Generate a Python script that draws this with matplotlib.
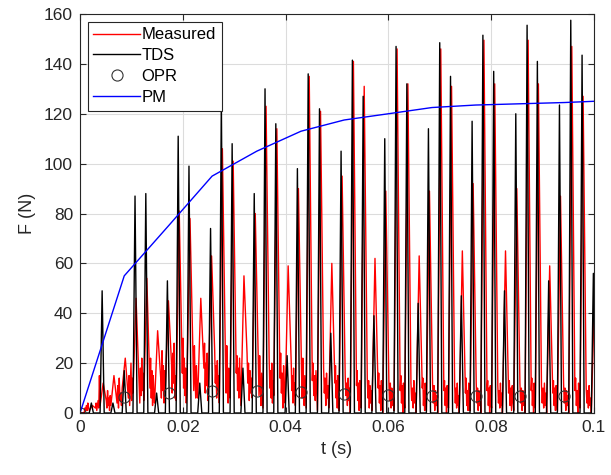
import numpy as np
import matplotlib.pyplot as plt

plt.rcParams['font.family'] = ['Liberation Sans', 'DejaVu Sans']

## Data
# TDS: peak times (s) and peak forces (N)
tds_t = [0.0022, 0.0043, 0.0064, 0.0086, 0.0107, 0.0128, 0.0149, 0.0170, 0.0191, 0.0212,
         0.0233, 0.0254, 0.0275, 0.0296, 0.0317, 0.0339, 0.0360, 0.0381, 0.0403, 0.0423,
         0.0444, 0.0466, 0.0488, 0.0508, 0.0530, 0.0551, 0.0572, 0.0593, 0.0615, 0.0636,
         0.0658, 0.0678, 0.0700, 0.0721, 0.0742, 0.0763, 0.0784, 0.0805, 0.0826, 0.0848,
         0.0870, 0.0890, 0.0912, 0.0933, 0.0955, 0.0977, 0.0999]
tds_f = [4, 49, 4, 17, 87, 88, 8, 53, 111, 99,
         12, 74, 126, 108, 18, 88, 130, 116, 23, 98,
         136, 122, 32, 105, 141.5, 127, 39, 110, 147, 132,
         44, 114, 148.5, 135, 47, 117, 151.5, 137, 49, 120,
         155.5, 141, 53, 123.5, 157.5, 143.5, 56]

# Measured: peak force at each impact, and the noise before it (8 samples per gap)
meas_peak = [3, 12, 15, 22, 46, 54, 33, 45, 81, 78,
             46, 63, 106, 101, 55, 80, 123, 114, 59, 90,
             135, 121, 60, 95, 141, 131, 62, 89, 146, 132,
             63, 89, 146, 131, 65, 92, 149.5, 132, 65, 90,
             149.5, 132, 59, 87, 147, 127, 47]
meas_noise = [
    [0, 2, 1, 3, 1, 4, 2, 1], [2, 4, 1, 3, 5, 2, 15, 3], [5, 2, 9, 3, 6, 1, 7, 3],
    [4, 11, 2, 14, 5, 8, 3, 10], [6, 15, 3, 12, 20, 5, 14, 8], [12, 4, 18, 7, 22, 9, 16, 5],
    [10, 22, 6, 17, 3, 15, 8, 4], [14, 6, 25, 9, 19, 4, 17, 11], [20, 8, 24, 12, 28, 6, 15, 5],
    [16, 30, 10, 22, 7, 18, 4, 12], [22, 9, 27, 14, 6, 19, 11, 6], [18, 28, 8, 20, 11, 24, 5, 13],
    [25, 12, 19, 6, 21, 9, 15, 4], [21, 8, 27, 13, 4, 18, 10, 6], [16, 23, 9, 18, 6, 22, 12, 3],
    [24, 12, 20, 5, 17, 8, 14, 6], [19, 7, 23, 11, 3, 16, 9, 2], [22, 10, 17, 6, 20, 4, 13, 7],
    [14, 24, 8, 16, 2, 19, 10, 4], [20, 9, 15, 4, 18, 7, 12, 3], [17, 6, 22, 10, 3, 15, 8, 2],
    [13, 20, 7, 15, 5, 17, 9, 1], [18, 8, 14, 3, 16, 6, 11, 2], [12, 19, 6, 13, 2, 15, 7, 1],
    [15, 7, 12, 3, 14, 5, 10, 0], [11, 17, 5, 12, 1, 13, 6, 2], [14, 6, 13, 2, 11, 4, 9, 1],
    [10, 16, 4, 11, 1, 13, 5, 0], [13, 5, 12, 2, 10, 3, 8, 1], [9, 15, 4, 11, 0, 12, 6, 2],
    [12, 5, 10, 2, 13, 4, 8, 0], [10, 14, 3, 9, 1, 12, 5, 1], [12, 4, 11, 1, 9, 3, 7, 0],
    [9, 13, 3, 10, 0, 11, 5, 2], [11, 4, 10, 2, 12, 3, 7, 0], [8, 14, 3, 9, 1, 12, 4, 1],
    [12, 4, 10, 1, 9, 3, 7, 0], [9, 13, 3, 10, 0, 11, 4, 2], [11, 4, 9, 2, 12, 3, 8, 0],
    [8, 13, 3, 10, 1, 11, 5, 1], [12, 4, 10, 1, 9, 3, 7, 0], [9, 14, 3, 9, 0, 12, 4, 2],
    [11, 4, 10, 2, 12, 3, 8, 0], [8, 13, 3, 10, 1, 11, 5, 1], [12, 4, 10, 1, 9, 3, 7, 0],
    [9, 14, 3, 9, 0, 12, 4, 2], [10, 4, 9, 2, 11, 3, 6, 0]]

# OPR and PM
opr_t = [0, 0.0086, 0.0174, 0.0257, 0.0344, 0.0430, 0.0514, 0.0600, 0.0685, 0.0770, 0.0856, 0.0942]
opr_f = [0, 6.5, 8.1, 8.8, 8.8, 8.5, 7.6, 7.2, 6.9, 7.0, 7.0, 7.0]
pm_t = [0, 0.0086, 0.0174, 0.0257, 0.0344, 0.0430, 0.0514, 0.0600, 0.0685, 0.0770, 0.0856, 0.0942, 0.1]
pm_f = [0, 55, 75.5, 95, 105, 113, 117.5, 120, 122.5, 123.5, 124, 124.5, 125]

##Build polylines
hw = 0.0004  # half width of an impact spike
tk_x, tk_y = [0.0], [0.0]
for t, f in zip(tds_t, tds_f):
    tk_x += [t - hw, t, t + hw]
    tk_y += [0, f, 0]

ms_x, ms_y = [0.0], [0.0]
prev = 0.0
for t, f, row in zip(tds_t, meas_peak, meas_noise):
    ms_x += list(np.linspace(prev + 0.0008, t - 0.0004, len(row)))
    ms_y += row
    ms_x.append(t + 0.0002)
    ms_y.append(f)
    prev = t

##Figure
fig, ax = plt.subplots(figsize=(6.11, 4.75), dpi=100)
fig.subplots_adjust(left=0.131, right=0.972, bottom=0.1305, top=0.9705)

dk = '#262626'
ax.plot(ms_x, ms_y, color='r', lw=1.0, label='Measured')
ax.plot(tk_x, tk_y, color='k', lw=1.0, label='TDS')
ax.plot(opr_t, opr_f, 'o', mfc='none', mec='#333333', ms=8, mew=0.8, label='OPR')
ax.plot(pm_t, pm_f, color='b', lw=1.0, label='PM')

ax.set_xlim(0, 0.1)
ax.set_ylim(0, 160)
ax.set_xticks([0, 0.02, 0.04, 0.06, 0.08, 0.1])
ax.set_xticklabels(['0', '0.02', '0.04', '0.06', '0.08', '0.1'])
ax.set_yticks(np.arange(0, 161, 20))
ax.grid(True, color='#dcdcdc', lw=0.8)
ax.set_axisbelow(True)
ax.tick_params(direction='in', top=True, right=True, length=4, width=0.8,
               colors=dk, labelsize=12.5, pad=5)
for sp in ax.spines.values():
    sp.set_color(dk)
    sp.set_linewidth(0.8)
ax.set_xlabel('t (s)', fontsize=13, color=dk, labelpad=4)
ax.set_ylabel('F (N)', fontsize=13, color=dk, labelpad=6)

leg = ax.legend(loc='upper left', fontsize=12, fancybox=False, framealpha=1,
                edgecolor=dk, handlelength=2.8, handletextpad=0.1,
                borderaxespad=0.45, labelspacing=0.35, borderpad=0.35)
leg.get_frame().set_linewidth(0.8)

fig.savefig('out.png', dpi=100)
